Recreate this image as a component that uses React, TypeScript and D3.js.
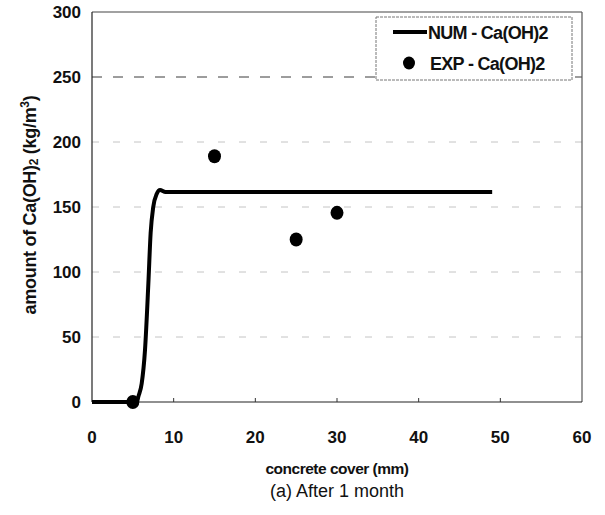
import React from "react";
import * as d3 from "d3";

// Numerical profile: concrete cover (mm) vs Ca(OH)2 content (kg/m3)
const numCover = [0, 5, 5.5, 5.67, 6.08, 6.49, 6.9, 7.18, 7.5, 7.92, 8.33, 9, 49];
const numCaOH = [0, 0, 0, 4, 14, 40, 91, 130, 150, 160, 163, 161.5, 161.5];

// Experimental measurements
const expCover = [5, 15, 25, 30];
const expCaOH = [0, 189, 125, 145.5];

const xTicks = [0, 10, 20, 30, 40, 50, 60];
const yTicks = [0, 50, 100, 150, 200, 250, 300];

const W = 605;
const H = 515;
const margin = { left: 92, right: 23, top: 12, bottom: 113 };
const font = "'Liberation Sans', Arial, sans-serif";

export default function App() {
  const x = d3.scaleLinear().domain([0, 60]).range([margin.left, W - margin.right]);
  const y = d3.scaleLinear().domain([0, 300]).range([H - margin.bottom, margin.top]);

  const line = d3
    .line<number>()
    .x((_, i) => x(numCover[i]))
    .y((d) => y(d))
    .curve(d3.curveMonotoneX);

  const x0 = x(0);
  const x1 = x(60);
  const y0 = y(0);
  const y1 = y(300);

  return (
    <svg
      width={W}
      height={H}
      style={{ position: "absolute", left: 0, top: 0, background: "#fff" }}
    >
      <rect x={0} y={0} width={W} height={H} fill="#fff" />
      {/* horizontal gridlines */}
      {yTicks
        .filter((t) => t > 0 && t < 300)
        .map((t) => (
          <line
            key={t}
            x1={x0}
            x2={x1}
            y1={y(t)}
            y2={y(t)}
            stroke={t === 250 ? "#3a3a3a" : "#c4c4c4"}
            strokeWidth={1}
            strokeDasharray={t === 250 ? "10,11" : "7,14"}
          />
        ))}
      {/* plot frame */}
      <line x1={x0} x2={x1} y1={y1} y2={y1} stroke="#444" strokeWidth={1.2} />
      <line x1={x1} x2={x1} y1={y1} y2={y0} stroke="#555" strokeWidth={1.2} />
      <line x1={x0} x2={x0} y1={y1} y2={y0} stroke="#222" strokeWidth={1.2} />
      <line x1={x0} x2={x1} y1={y0} y2={y0} stroke="#222" strokeWidth={1.2} />
      {/* x ticks */}
      {xTicks
        .filter((t) => t > 0 && t < 60)
        .map((t) => (
          <line key={t} x1={x(t)} x2={x(t)} y1={y0} y2={y0 - 4} stroke="#333" strokeWidth={1} />
        ))}
      {/* tick labels */}
      {xTicks.map((t) => (
        <text
          key={t}
          x={x(t)}
          y={443}
          textAnchor="middle"
          fontFamily={font}
          fontWeight="bold"
          fontSize={17}
          fill="#111"
        >
          {t}
        </text>
      ))}
      {yTicks.map((t) => (
        <text
          key={t}
          x={81}
          y={y(t) + 6}
          textAnchor="end"
          fontFamily={font}
          fontWeight="bold"
          fontSize={17}
          fill="#111"
        >
          {t}
        </text>
      ))}
      {/* numerical curve */}
      <path d={line(numCaOH) || ""} fill="none" stroke="#000" strokeWidth={4} strokeLinejoin="round" />
      {/* experimental points */}
      {expCover.map((c, i) => (
        <ellipse key={i} cx={x(c)} cy={y(expCaOH[i])} rx={6.5} ry={7} fill="#000" />
      ))}
      {/* legend */}
      <rect
        x={376}
        y={17}
        width={196}
        height={63}
        fill="#fff"
        stroke="#777"
        strokeWidth={1}
        strokeDasharray="3,1"
      />
      <line x1={393} x2={427} y1={32} y2={32} stroke="#000" strokeWidth={4} />
      <text x={428} y={38.5} fontFamily={font} fontWeight="bold" fontSize={18} letterSpacing={-0.7} fill="#111">
        NUM - Ca(OH)2
      </text>
      <ellipse cx={409} cy={63} rx={6} ry={6.5} fill="#000" />
      <text x={430} y={70} fontFamily={font} fontWeight="bold" fontSize={18} letterSpacing={-0.7} fill="#111">
        EXP - Ca(OH)2
      </text>
      {/* axis titles */}
      <text
        transform={`translate(36,${205}) rotate(-90)`}
        textAnchor="middle"
        fontFamily={font}
        fontWeight="bold"
        fontSize={18}
        letterSpacing={-0.3}
        fill="#111"
      >
        amount of Ca(OH)
        <tspan fontSize={12} dy={2}>2</tspan>
        <tspan dy={-2}> (kg/m</tspan>
        <tspan fontSize={12} dy={-7}>3</tspan>
        <tspan dy={7}>)</tspan>
      </text>
      <text
        x={337}
        y={474}
        textAnchor="middle"
        fontFamily={font}
        fontWeight="bold"
        fontSize={15.5}
        letterSpacing={-0.5}
        fill="#111"
      >
        concrete cover (mm)
      </text>
      <text x={337} y={497} textAnchor="middle" fontFamily={font} fontSize={18} fill="#111">
        (a) After 1 month
      </text>
    </svg>
  );
}
